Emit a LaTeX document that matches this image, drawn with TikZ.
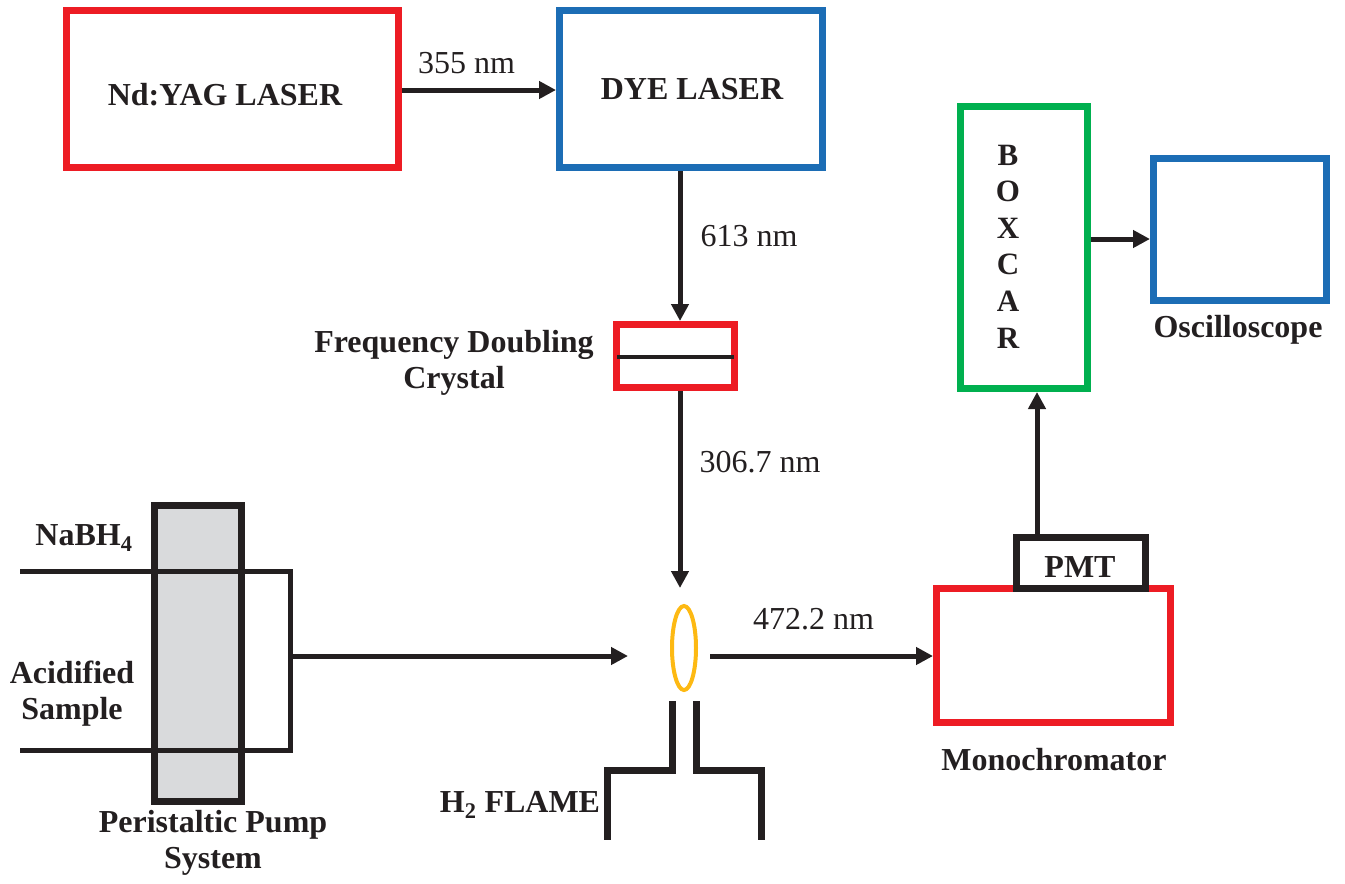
\documentclass[tikz,border=0pt]{standalone}
\usepackage{fontspec}
\setmainfont{Liberation Serif}
\usetikzlibrary{arrows.meta,calc,shapes.geometric}
\definecolor{cred}{HTML}{ED1C24}
\definecolor{cblue}{HTML}{1C6DB5}
\definecolor{cgreen}{HTML}{00B04F}
\definecolor{cgold}{HTML}{FDB913}
\definecolor{cblack}{HTML}{231F20}
\definecolor{cgrey}{HTML}{D9DADC}
\begin{document}
\begin{tikzpicture}[x=1pt,y=-1pt,
  box/.style={draw, line width=7pt, inner sep=0pt, minimum width=#1},
  txt/.style={font=\fontsize{32}{36}\selectfont, inner sep=0pt, align=center, text=cblack},
  btxt/.style={txt, font=\fontsize{32}{36}\selectfont\bfseries},
  arr/.style={line width=5pt, draw=cblack, -{Triangle[length=17pt,width=17pt]}},
  tube/.style={line width=5pt, draw=cblack},
  burner/.style={line width=7pt, draw=cblack}]
\useasboundingbox (0,0) rectangle (1345,884);

% boxes
\node[box=332pt, draw=cred, minimum height=157pt] (yag) at (232.5,89) {};
\node[box=263pt, draw=cblue, minimum height=157pt] (dye) at (691,89) {};
\node[box=118pt, draw=cred, minimum height=63pt] (cry) at (675.5,356) {};
\node[box=234pt, draw=cred, minimum height=134pt] (mono) at (1053.5,655.5) {};
\node[box=129pt, draw=cblack, fill=white, minimum height=51pt] (pmt) at (1081,563) {};
\node[box=127pt, draw=cgreen, minimum height=282pt] (boxcar) at (1024,247.5) {};
\node[box=173pt, draw=cblue, minimum height=142pt] (osc) at (1240,229.5) {};
\node[box=87pt, draw=cblack, fill=cgrey, minimum height=296pt] (pump) at (198,653.5) {};

% crystal line
\coordinate (cl) at (617,357);
\coordinate (cr) at (734,357);
\draw[line width=4pt, cblack] (cl) -- (cr);

% texts
\node[btxt] (tyag) at (225,95) {Nd:YAG LASER};
\node[btxt] (tdye) at (692,89) {DYE LASER};
\node[btxt] (tpmt) at (1080,567) {PMT};
\node[btxt, font=\fontsize{31}{36.6}\selectfont\bfseries] (tbox) at (1008,246.5) {B\\O\\X\\C\\A\\R};
\node[txt] (l355) at (466.5,63) {355 nm};
\node[txt] (l613) at (749,236) {613 nm};
\node[txt] (l306) at (760,462) {306.7 nm};
\node[txt] (l472) at (813.5,619) {472.2 nm};
\node[btxt] (tcry) at (454,363) {Frequency Doubling\\Crystal};
\node[btxt] (tflame) at (520,805) {H\textsubscript{2} FLAME};
\node[btxt] (tnabh) at (84,538) {NaBH\textsubscript{4}};
\node[btxt] (tacid) at (72,694) {Acidified\\Sample};
\node[btxt] (tpump) at (213,843) {Peristaltic Pump\\System};
\node[btxt] (tmono) at (1054,760) {Monochromator};
\node[btxt] (tosc) at (1238,330) {Oscilloscope};

% flame
\node[draw=cgold, line width=4pt, ellipse, minimum width=24pt, minimum height=84pt, inner sep=0pt] (flame) at (684,648) {};
\coordinate (x680) at (680,0);
\coordinate (x1037) at (1037,0);
\coordinate (y90) at (0,90);
\coordinate (y239) at (0,239);
\coordinate (fin) at (628,656);
\coordinate (fout) at (710,656);
\coordinate (fabove) at (680,588);

% burner
\coordinate (bl1) at (672,701);
\coordinate (bl2) at (672,770);
\coordinate (bl3) at (607,770);
\coordinate (bl4) at (607,840);
\coordinate (br1) at (696,701);
\coordinate (br2) at (696,770);
\coordinate (br3) at (761,770);
\coordinate (br4) at (761,840);
\draw[burner] (bl1) -- (bl2) -- (bl3) -- (bl4);
\draw[burner] (br1) -- (br2) -- (br3) -- (br4);

% tubes
\coordinate (t1) at (20,571);
\coordinate (t2) at (290,571);
\coordinate (t3) at (290,750);
\coordinate (t4) at (20,750);
\coordinate (tj) at (290,656);
\draw[tube] (t1) -- (t2) -- (t3) -- (t4);

% arrows
\draw[arr] (yag.east |- y90) -- (dye.west |- y90);
\draw[arr] (dye.south -| x680) -- (cry.north -| x680);
\draw[arr] (cry.south -| x680) -- (fabove);
\draw[arr] (tj) -- (fin);
\draw[arr] (fout) -- (mono.west |- fout);
\draw[arr] (pmt.north -| x1037) -- (boxcar.south -| x1037);
\draw[arr] (boxcar.east |- y239) -- (osc.west |- y239);
\end{tikzpicture}
\end{document}
